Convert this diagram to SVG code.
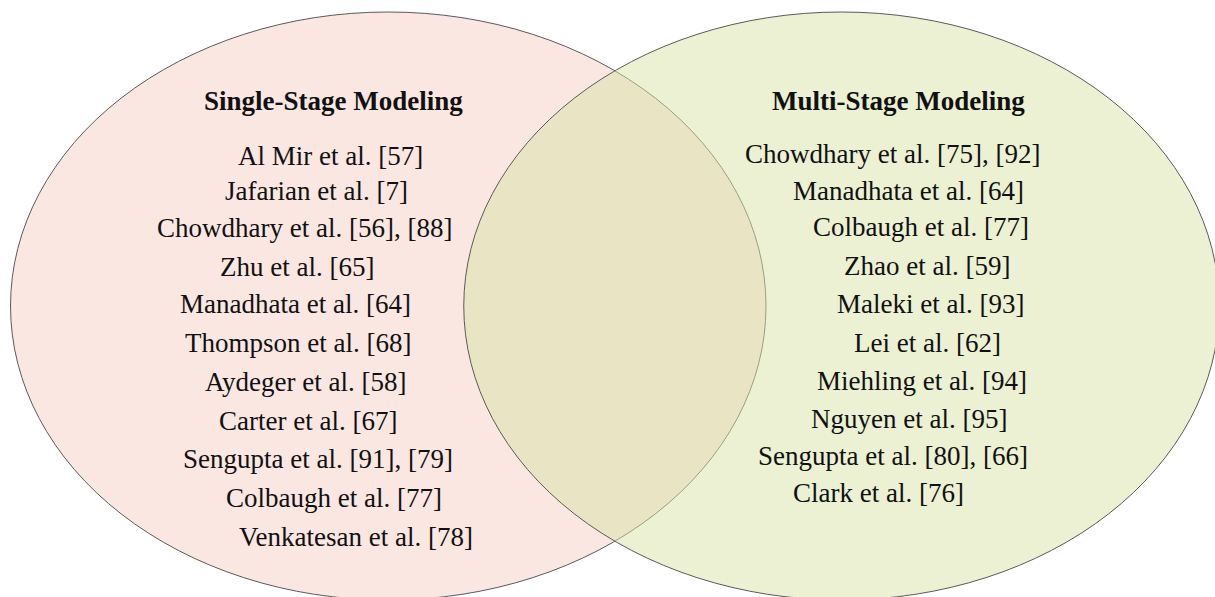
<svg xmlns="http://www.w3.org/2000/svg" width="1215" height="597" viewBox="0 0 1215 597">
<style>
.set{stroke:#5a5a5a;stroke-width:1}
.left{fill:#fbe7e2}
.right{fill:rgb(215,227,165);fill-opacity:0.5}
.lbl{font-family:'Liberation Serif','Times New Roman',Times,'DejaVu Serif',serif;font-size:27px;fill:#111}
.title{font-weight:bold}
</style>
<rect width="1215" height="597" fill="#ffffff"/>
<g id="single-stage-set">
<ellipse class="set left" cx="388.25" cy="306" rx="377.75" ry="294"/>
</g>
<g id="multi-stage-set">
<ellipse class="set right" cx="841.5" cy="306" rx="377.75" ry="294"/>
</g>
<g id="single-stage-labels" class="lbl" font-family="Liberation Serif, serif">
<text class="title" x="204" y="110">Single-Stage Modeling</text>
<text x="238" y="165">Al Mir et al. [57]</text>
<text x="225" y="200">Jafarian et al. [7]</text>
<text x="157" y="237">Chowdhary et al. [56], [88]</text>
<text x="220" y="276">Zhu et al. [65]</text>
<text x="180" y="313">Manadhata et al. [64]</text>
<text x="185" y="352">Thompson et al. [68]</text>
<text x="205" y="391">Aydeger et al. [58]</text>
<text x="219" y="430">Carter et al. [67]</text>
<text x="183" y="468">Sengupta et al. [91], [79]</text>
<text x="226" y="507">Colbaugh et al. [77]</text>
<text x="239" y="546">Venkatesan et al. [78]</text>
</g>
<g id="multi-stage-labels" class="lbl" font-family="Liberation Serif, serif">
<text class="title" x="772" y="110">Multi-Stage Modeling</text>
<text x="745" y="163">Chowdhary et al. [75], [92]</text>
<text x="793" y="200">Manadhata et al. [64]</text>
<text x="813" y="236">Colbaugh et al. [77]</text>
<text x="844" y="275">Zhao et al. [59]</text>
<text x="837" y="313">Maleki et al. [93]</text>
<text x="854" y="352">Lei et al. [62]</text>
<text x="817" y="390">Miehling et al. [94]</text>
<text x="811" y="428">Nguyen et al. [95]</text>
<text x="758" y="465">Sengupta et al. [80], [66]</text>
<text x="793" y="502">Clark et al. [76]</text>
</g>
</svg>
